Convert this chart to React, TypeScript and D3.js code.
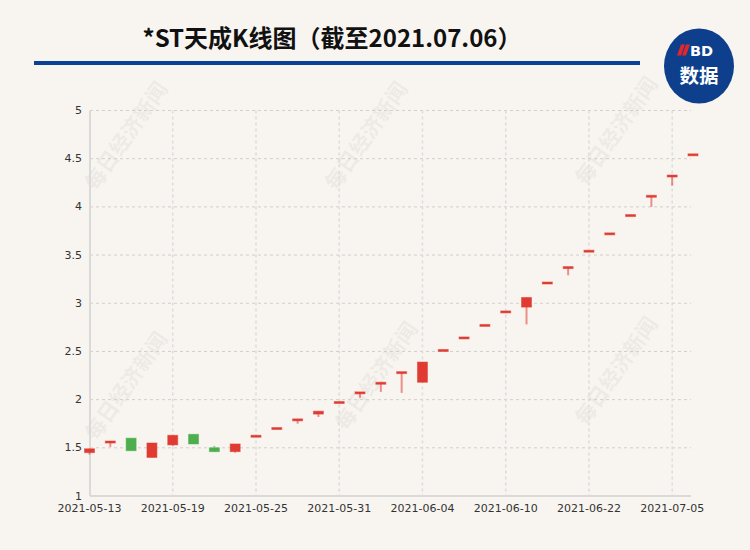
import React from "react";
import * as d3 from "d3";

const dates = [
  "2021-05-13", "2021-05-14", "2021-05-17", "2021-05-18", "2021-05-19", "2021-05-20",
  "2021-05-21", "2021-05-24", "2021-05-25", "2021-05-26", "2021-05-27", "2021-05-28",
  "2021-05-31", "2021-06-01", "2021-06-02", "2021-06-03", "2021-06-04", "2021-06-07",
  "2021-06-08", "2021-06-09", "2021-06-10", "2021-06-11", "2021-06-15", "2021-06-21",
  "2021-06-22", "2021-06-23", "2021-06-29", "2021-07-02", "2021-07-05", "2021-07-06",
];
const openV = [1.45, 1.54, 1.60, 1.40, 1.53, 1.64, 1.50, 1.46, 1.62, 1.70, 1.79, 1.85, 1.97, 2.07, 2.17, 2.28, 2.18, 2.51, 2.64, 2.77, 2.91, 2.96, 3.21, 3.37, 3.54, 3.72, 3.91, 4.11, 4.32, 4.54];
const closeV = [1.49, 1.56, 1.47, 1.55, 1.63, 1.54, 1.46, 1.54, 1.62, 1.70, 1.79, 1.88, 1.97, 2.07, 2.17, 2.28, 2.39, 2.51, 2.64, 2.77, 2.91, 3.06, 3.21, 3.37, 3.54, 3.72, 3.91, 4.11, 4.32, 4.54];
const highV = [1.49, 1.56, 1.60, 1.55, 1.63, 1.64, 1.52, 1.54, 1.62, 1.70, 1.79, 1.88, 1.97, 2.07, 2.17, 2.28, 2.39, 2.51, 2.64, 2.77, 2.91, 3.06, 3.21, 3.37, 3.54, 3.72, 3.91, 4.11, 4.32, 4.54];
const lowV = [1.43, 1.51, 1.47, 1.40, 1.52, 1.54, 1.46, 1.45, 1.62, 1.70, 1.75, 1.82, 1.97, 2.02, 2.08, 2.07, 2.18, 2.51, 2.64, 2.77, 2.91, 2.78, 3.21, 3.29, 3.54, 3.72, 3.91, 4.00, 4.22, 4.54];
const yTicks = [1, 1.5, 2, 2.5, 3, 3.5, 4, 4.5, 5];
const labelEvery = 4;
const titleMain = "*ST天成K线图";
const titleSub = "（截至2021.07.06）";
const watermark = "每日经济新闻";
const wmPos = [[125, 135], [365, 135], [615, 130], [125, 385], [375, 375], [615, 370]];

const W = 750, H = 550;
const UP = "#e03b32", DOWN = "#4cae4c";

export default function App() {
  const x = d3.scalePoint<string>().domain(dates).range([89.5, 693]);
  const y = d3.scaleLinear().domain([1, 5]).range([496, 110.5]);
  const x0 = 90, x1 = 691;
  const gridX = dates.filter((_, i) => i % labelEvery === 0 && i > 0);
  const fmt = d3.format("");
  const bw = 10;
  return (
    <svg width={W} height={H} style={{ position: "absolute", left: 0, top: 0 }}>
      <rect width={W} height={H} fill="#f8f5f0" />
      {wmPos.map(([cx, cy], i) => (
        <text key={i} x={cx} y={cy} transform={`rotate(-55 ${cx} ${cy})`} textAnchor="middle"
          dominantBaseline="central" fontFamily="'Noto Sans CJK SC'" fontWeight="bold" fontSize={21}
          fill="#000" opacity={0.04}>{watermark}</text>
      ))}
      <text x={332} y={47} textAnchor="middle" fontFamily="'Noto Sans CJK SC'" fontWeight="bold"
        fontSize={24} fill="#111">
        <tspan>{titleMain}</tspan>
        <tspan>{titleSub}</tspan>
      </text>
      <rect x={34} y={61} width={606} height={4} fill="#0a4194" />
      <ellipse cx={699} cy={66} rx={35} ry={37.5} fill="#0d3f8d" />
      <path d="M681,44.5 L685,44.5 L681,55.5 L677,55.5 Z M686,44.5 L690,44.5 L686,55.5 L682,55.5 Z" fill="#e3262c" />
      <text x={690} y={55.5} textAnchor="start" fontFamily="'DejaVu Sans'" fontWeight="bold"
        fontSize={14.5} fill="#fff">BD</text>
      <text x={699} y={82.5} textAnchor="middle" fontFamily="'Noto Sans CJK SC'" fontWeight="bold"
        fontSize={19.5} fill="#fff">数据</text>
      {yTicks.slice(1).map((t) => (
        <line key={t} x1={x0} x2={x1} y1={y(t)} y2={y(t)} stroke="#cfcfcf" strokeDasharray="3,3" />
      ))}
      {gridX.map((d) => (
        <line key={d} x1={x(d)} x2={x(d)} y1={y(5)} y2={y(1)} stroke="#dcdcdc" strokeWidth={1.5} strokeDasharray="3,3" />
      ))}
      <line x1={x0} x2={x0} y1={y(5)} y2={y(1)} stroke="#dadada" strokeWidth={2} />
      <line x1={x0} x2={x1} y1={y(1)} y2={y(1)} stroke="#dadada" strokeWidth={2} />
      {yTicks.map((t) => (
        <text key={t} x={82} y={y(t)} textAnchor="end" dominantBaseline="central"
          fontFamily="'DejaVu Sans'" fontSize={11} fill="#333">{fmt(t)}</text>
      ))}
      {dates.filter((_, i) => i % labelEvery === 0).map((d) => (
        <text key={d} x={x(d)} y={512} textAnchor="middle" fontFamily="'DejaVu Sans'" fontSize={11}
          fill="#333">{d}</text>
      ))}
      {dates.map((d, i) => {
        const cx = x(d) as number;
        const o = openV[i], c = closeV[i];
        const col = c >= o ? UP : DOWN;
        const top = y(Math.max(o, c)), bot = y(Math.min(o, c));
        const h = Math.max(bot - top, 2);
        return (
          <g key={d}>
            <line x1={cx} x2={cx} y1={y(highV[i])} y2={y(lowV[i])} stroke={col} strokeOpacity={0.55} strokeWidth={2} />
            <rect x={cx - bw / 2} y={top - (bot - top < 2 ? 1 : 0)} width={bw} height={h} fill={col}
              stroke={col} strokeOpacity={0.5} strokeWidth={1} />
          </g>
        );
      })}
    </svg>
  );
}
